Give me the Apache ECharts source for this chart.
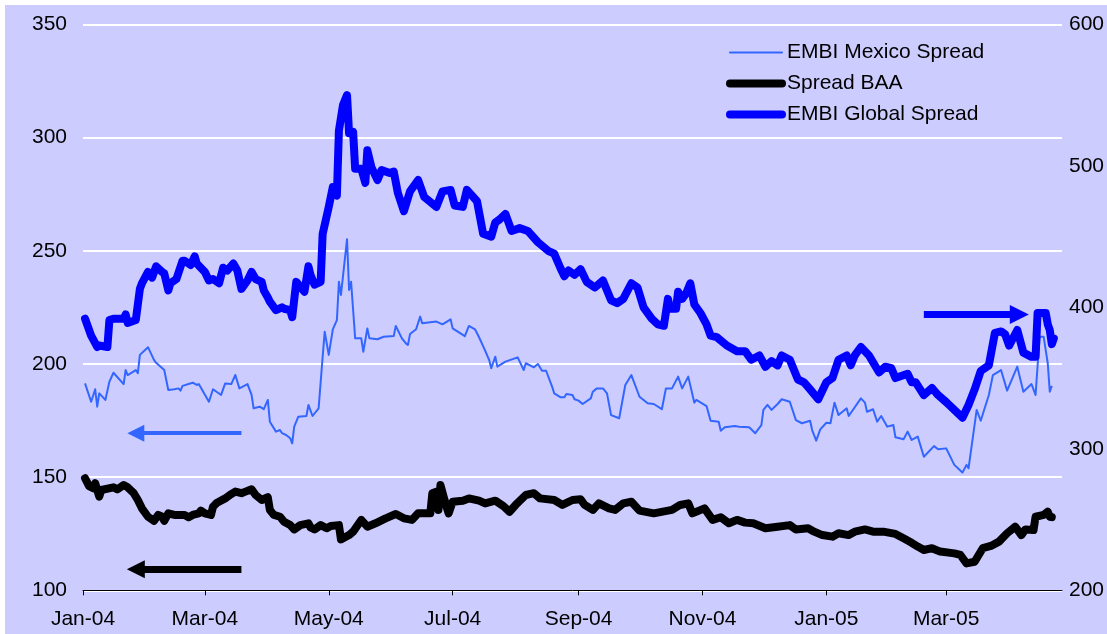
<!DOCTYPE html>
<html>
<head>
<meta charset="utf-8">
<script src="https://cdn.jsdelivr.net/npm/echarts/dist/echarts.min.js"></script>
<style>
  html, body { margin: 0; padding: 0; background: #ffffff; }
  #chart { position: absolute; left: 5px; top: 5px; width: 1102px; height: 629px; }
</style>
</head>
<body>
<div id="chart"></div>
<script>
// EMBI Mexico spread, basis points (left axis)
const mexicoSpread = [
  ['2004-01-02',191.4],['2004-01-05',183.3],['2004-01-07',188.8],['2004-01-08',181.1],['2004-01-09',187],
  ['2004-01-12',184.1],['2004-01-14',192.2],['2004-01-16',196.1],['2004-01-21',191.1],['2004-01-22',197.3],
  ['2004-01-23',195.1],['2004-01-27',197.3],['2004-01-28',195.9],['2004-01-29',204],['2004-02-02',207.4],
  ['2004-02-05',201.7],['2004-02-06',200.5],['2004-02-10',197.3],['2004-02-12',188.5],['2004-02-15',188.8],
  ['2004-02-17',189.2],['2004-02-18',188.2],['2004-02-19',190.3],['2004-02-24',191.7],['2004-02-26',190.7],
  ['2004-02-27',191.1],['2004-03-03',183.3],['2004-03-05',188.8],['2004-03-09',186.3],['2004-03-11',191.4],
  ['2004-03-14',191.1],['2004-03-16',195.1],['2004-03-18',189.2],['2004-03-22',191.1],['2004-03-24',186.3],
  ['2004-03-25',180.4],['2004-03-28',181.1],['2004-03-30',180],['2004-04-01',184.1],['2004-04-02',174.5],
  ['2004-04-05',170.1],['2004-04-07',170.8],['2004-04-08',169.4],['2004-04-10',168.6],['2004-04-12',167.2],
  ['2004-04-13',164.9],['2004-04-14',172.3],['2004-04-16',176.7],['2004-04-20',177],['2004-04-21',181.9],
  ['2004-04-23',177],['2004-04-26',180.4],['2004-04-28',203.2],['2004-04-29',214.2],['2004-05-01',204],
  ['2004-05-03',215.3],['2004-05-05',219.4],['2004-05-06',236.3],['2004-05-07',230.5],['2004-05-10',255.1],
  ['2004-05-11',232.7],['2004-05-12',236.3],['2004-05-14',211.3],['2004-05-17',211.3],['2004-05-18',205.4],
  ['2004-05-20',215.7],['2004-05-21',211.3],['2004-05-25',210.9],['2004-05-28',212],['2004-06-02',212.3],
  ['2004-06-03',216.8],['2004-06-06',211.3],['2004-06-08',209.1],['2004-06-09',208.4],['2004-06-10',213.2],
  ['2004-06-13',215.3],['2004-06-15',220.9],['2004-06-16',218],['2004-06-23',218.7],['2004-06-26',217.5],
  ['2004-06-30',219.7],['2004-07-01',215.7],['2004-07-07',212.3],['2004-07-09',216.8],['2004-07-12',215.3],
  ['2004-07-14',211.8],['2004-07-17',205.9],['2004-07-19',201.7],['2004-07-20',198.1],['2004-07-22',203.2],
  ['2004-07-23',198.8],['2004-07-27',201],['2004-08-02',202.9],['2004-08-05',197.3],['2004-08-06',200.3],
  ['2004-08-10',198.5],['2004-08-12',200],['2004-08-14',197],['2004-08-16',197],['2004-08-19',189.9],
  ['2004-08-20',187],['2004-08-23',185.3],['2004-08-25',185.3],['2004-08-26',186.7],['2004-08-29',186.3],
  ['2004-08-30',184.4],['2004-09-01',183.8],['2004-09-03',182.3],['2004-09-07',184.8],['2004-09-08',187.7],
  ['2004-09-10',189.2],['2004-09-13',189.2],['2004-09-15',187],['2004-09-17',177.4],['2004-09-21',176],
  ['2004-09-24',190.7],['2004-09-27',195.1],['2004-10-01',185.5],['2004-10-05',182.6],['2004-10-08',182.3],
  ['2004-10-12',180],['2004-10-14',189.2],['2004-10-17',189.2],['2004-10-20',194.4],['2004-10-22',189.2],
  ['2004-10-25',194.4],['2004-10-28',182.9],['2004-10-29',184.1],['2004-11-03',181.4],['2004-11-05',174.9],
  ['2004-11-09',174.5],['2004-11-10',170.5],['2004-11-12',172],['2004-11-17',172.6],['2004-11-19',172.3],
  ['2004-11-24',172],['2004-11-27',169.4],['2004-11-30',173],['2004-12-01',179.7],['2004-12-03',181.9],
  ['2004-12-05',179.7],['2004-12-08',182.3],['2004-12-10',184.4],['2004-12-14',183.3],['2004-12-17',175.2],
  ['2004-12-20',173.8],['2004-12-24',174.9],['2004-12-25',170.8],['2004-12-27',166.1],['2004-12-29',171.1],
  ['2005-01-01',174],['2005-01-03',173.8],['2005-01-05',182.9],['2005-01-07',177.4],['2005-01-11',180.4],
  ['2005-01-12',177],['2005-01-18',184.8],['2005-01-20',182.9],['2005-01-21',178.9],['2005-01-24',180],
  ['2005-01-26',174.5],['2005-01-28',177],['2005-01-31',172.3],['2005-02-03',173],['2005-02-04',167.6],
  ['2005-02-08',166.7],['2005-02-10',170.1],['2005-02-12',166.4],['2005-02-15',167.9],['2005-02-18',159],
  ['2005-02-23',163.7],['2005-02-25',162.3],['2005-03-01',162.7],['2005-03-05',155.4],['2005-03-09',152],
  ['2005-03-11',155.4],['2005-03-12',153.9],['2005-03-16',179.7],['2005-03-18',174.9],['2005-03-22',186.3],
  ['2005-03-24',195.1],['2005-03-28',197.3],['2005-03-31',188.2],['2005-04-05',198.8],['2005-04-08',187.7],
  ['2005-04-12',191.1],['2005-04-14',186.3],['2005-04-16',212],['2005-04-18',212],['2005-04-20',200.3],
  ['2005-04-21',187.7],['2005-04-22',190.3]
];

// BAA corporate spread, basis points (left axis)
const baaSpread = [
  ['2004-01-02',149.5],['2004-01-04',146],['2004-01-06',145.1],['2004-01-07',147.3],['2004-01-09',141.4],
  ['2004-01-10',144.3],['2004-01-16',145.5],['2004-01-18',144.6],['2004-01-21',146.5],['2004-01-23',145.5],
  ['2004-01-26',142.9],['2004-01-28',139.9],['2004-01-30',136.2],['2004-02-02',132.5],['2004-02-05',130.7],
  ['2004-02-07',133.3],['2004-02-09',132.5],['2004-02-10',130.7],['2004-02-12',134],['2004-02-15',133.3],
  ['2004-02-20',133.3],['2004-02-22',132.3],['2004-02-24',133.3],['2004-02-27',134],['2004-02-28',135.2],
  ['2004-03-01',134],['2004-03-04',133.3],['2004-03-05',136.9],['2004-03-07',138.7],['2004-03-11',140.6],
  ['2004-03-14',142.5],['2004-03-16',143.6],['2004-03-19',142.9],['2004-03-21',143.6],['2004-03-24',144.6],
  ['2004-03-26',142.1],['2004-03-29',139.9],['2004-04-01',141.1],['2004-04-02',135.5],['2004-04-04',133.3],
  ['2004-04-07',132.5],['2004-04-09',130.3],['2004-04-12',128.8],['2004-04-14',126.9],['2004-04-17',128.8],
  ['2004-04-21',129.6],['2004-04-22',127.8],['2004-04-24',126.9],['2004-04-27',128.8],['2004-04-30',127.4],
  ['2004-05-02',128.4],['2004-05-06',128.8],['2004-05-07',122.5],['2004-05-11',124.4],['2004-05-13',125.9],
  ['2004-05-17',131.1],['2004-05-20',128.1],['2004-05-24',129.6],['2004-05-29',131.8],['2004-06-03',133.7],
  ['2004-06-07',131.8],['2004-06-11',131.1],['2004-06-14',134],['2004-06-20',134],['2004-06-21',142.9],
  ['2004-06-23',143.6],['2004-06-24',135.5],['2004-06-25',146.5],['2004-06-27',139.9],['2004-06-29',134],
  ['2004-07-01',139.1],['2004-07-06',139.6],['2004-07-09',140.6],['2004-07-14',139.6],['2004-07-17',138.4],
  ['2004-07-22',139.6],['2004-07-26',137.2],['2004-07-29',134.7],['2004-08-01',137.7],['2004-08-06',142.1],
  ['2004-08-10',142.9],['2004-08-13',140.6],['2004-08-20',139.9],['2004-08-24',137.7],['2004-08-29',139.9],
  ['2004-09-02',140.2],['2004-09-04',137.7],['2004-09-08',135.5],['2004-09-11',138.4],['2004-09-16',136.2],
  ['2004-09-19',135.5],['2004-09-23',138.4],['2004-09-27',139.1],['2004-10-01',135.2],['2004-10-08',134],
  ['2004-10-17',135.5],['2004-10-21',137.7],['2004-10-25',138.4],['2004-10-27',134],['2004-11-02',136.2],
  ['2004-11-06',131.1],['2004-11-10',132.3],['2004-11-14',129.6],['2004-11-18',131.1],['2004-11-22',129.9],
  ['2004-11-26',129.6],['2004-12-02',127.4],['2004-12-08',128.1],['2004-12-14',128.8],['2004-12-17',126.9],
  ['2004-12-23',127.4],['2004-12-26',125.9],['2004-12-30',124.4],['2005-01-04',123.7],['2005-01-07',125.2],
  ['2005-01-12',124.4],['2005-01-15',125.9],['2005-01-20',126.9],['2005-01-24',125.9],['2005-01-29',125.9],
  ['2005-02-04',124.9],['2005-02-08',123],['2005-02-12',121],['2005-02-15',119.3],['2005-02-18',117.8],
  ['2005-02-22',118.6],['2005-02-26',117.1],['2005-03-05',116.3],['2005-03-08',115.6],['2005-03-11',111.9],
  ['2005-03-15',112.6],['2005-03-17',115.6],['2005-03-19',118.6],['2005-03-23',119.6],['2005-03-27',121.5],
  ['2005-03-31',125.2],['2005-04-04',128.1],['2005-04-07',124.4],['2005-04-09',126.9],['2005-04-13',126.6],
  ['2005-04-14',132.5],['2005-04-18',133.3],['2005-04-20',134.7],['2005-04-21',132.5],['2005-04-22',132.3]
];

// EMBI Global spread, basis points (right axis)
const globalSpread = [
  ['2004-01-02',392],['2004-01-05',380],['2004-01-08',372],['2004-01-09',373],['2004-01-13',372],
  ['2004-01-14',391],['2004-01-16',392],['2004-01-21',392],['2004-01-22',395],['2004-01-23',389],
  ['2004-01-27',391],['2004-01-29',413],['2004-01-30',417],['2004-02-02',425],['2004-02-04',421],
  ['2004-02-06',429],['2004-02-09',425],['2004-02-10',424],['2004-02-12',412],['2004-02-13',417],
  ['2004-02-16',420],['2004-02-19',433],['2004-02-20',433],['2004-02-23',430],['2004-02-25',436],
  ['2004-02-26',431],['2004-03-01',425],['2004-03-03',419],['2004-03-05',420],['2004-03-08',417],
  ['2004-03-10',428],['2004-03-12',426],['2004-03-15',431],['2004-03-17',426],['2004-03-19',413],
  ['2004-03-22',419],['2004-03-24',425],['2004-03-26',420],['2004-03-29',418],['2004-03-30',412],
  ['2004-04-01',407],['2004-04-02',404],['2004-04-05',398],['2004-04-08',400],['2004-04-09',399],
  ['2004-04-12',398],['2004-04-13',393],['2004-04-15',418],['2004-04-19',411],['2004-04-21',429],
  ['2004-04-22',423],['2004-04-24',416],['2004-04-27',418],['2004-04-28',452],['2004-05-01',471],
  ['2004-05-03',485],['2004-05-05',479],['2004-05-06',525],['2004-05-08',543],['2004-05-10',550],
  ['2004-05-11',523],['2004-05-13',524],['2004-05-14',498],['2004-05-17',498],['2004-05-19',488],
  ['2004-05-20',511],['2004-05-22',499],['2004-05-25',490],['2004-05-27',497],['2004-05-31',495],
  ['2004-06-02',496],['2004-06-04',481],['2004-06-07',468],['2004-06-10',482],['2004-06-14',490],
  ['2004-06-17',478],['2004-06-23',471],['2004-06-26',482],['2004-06-30',483],['2004-07-02',472],
  ['2004-07-06',471],['2004-07-08',483],['2004-07-13',475],['2004-07-16',452],['2004-07-20',450],
  ['2004-07-22',460],['2004-07-24',462],['2004-07-27',466],['2004-07-30',454],['2004-08-03',456],
  ['2004-08-07',454],['2004-08-12',446],['2004-08-17',440],['2004-08-20',438],['2004-08-23',428],
  ['2004-08-25',422],['2004-08-27',426],['2004-08-30',423],['2004-09-02',427],['2004-09-05',418],
  ['2004-09-09',414],['2004-09-13',419],['2004-09-17',405],['2004-09-20',403],['2004-09-23',406],
  ['2004-09-27',417],['2004-09-30',414],['2004-10-03',400],['2004-10-07',392],['2004-10-10',388],
  ['2004-10-13',387],['2004-10-15',406],['2004-10-16',399],['2004-10-19',399],['2004-10-20',411],
  ['2004-10-22',406],['2004-10-24',410],['2004-10-26',417],['2004-10-28',402],['2004-10-31',396],
  ['2004-11-03',388],['2004-11-05',380],['2004-11-08',379],['2004-11-13',373],['2004-11-18',369],
  ['2004-11-22',369],['2004-11-25',363],['2004-11-29',366],['2004-12-02',358],['2004-12-05',362],
  ['2004-12-08',359],['2004-12-10',366],['2004-12-14',363],['2004-12-18',349],['2004-12-21',347],
  ['2004-12-24',342],['2004-12-28',335],['2005-01-01',347],['2005-01-04',350],['2005-01-07',363],
  ['2005-01-11',366],['2005-01-13',359],['2005-01-15',366],['2005-01-18',372],['2005-01-22',366],
  ['2005-01-27',354],['2005-01-30',358],['2005-02-02',357],['2005-02-04',350],['2005-02-10',353],
  ['2005-02-12',347],['2005-02-14',347],['2005-02-18',338],['2005-02-22',343],['2005-02-25',338],
  ['2005-03-01',333],['2005-03-09',322],['2005-03-12',331],['2005-03-15',342],['2005-03-18',355],
  ['2005-03-22',359],['2005-03-25',382],['2005-03-28',383],['2005-03-30',381],['2005-04-01',373],
  ['2005-04-05',384],['2005-04-08',368],['2005-04-12',365],['2005-04-14',365],['2005-04-15',396],
  ['2005-04-19',396],['2005-04-20',388],['2005-04-21',384],['2005-04-22',374],['2005-04-23',378]
];

// Bimonthly ticks along the date axis
const xTickDates = ['2004-01-01','2004-03-01','2004-05-01','2004-07-01','2004-09-01','2004-11-01','2005-01-01','2005-03-01'];
const xRange = ['2004-01-01','2005-04-27'];
const monthNames = ['Jan','Feb','Mar','Apr','May','Jun','Jul','Aug','Sep','Oct','Nov','Dec'];

// Direction arrows: [from, to] as [date, value] on the series' own axis
const mexicoArrow = [['2004-03-19',169.4],['2004-01-27',169.4]];
const baaArrow = [['2004-03-19',109.3],['2004-01-27',109.3]];
const globalArrow = [['2005-02-18',395],['2005-04-06',395]];

const FONT = '"Liberation Sans", Arial, Helvetica, sans-serif';

function day(s) {
  const p = s.split('-').map(Number);
  return new Date(p[0], p[1] - 1, p[2]).getTime();
}
const toPoints = rows => rows.map(r => [day(r[0]), r[1]]);
function arrowLine(a, color, width, head) {
  return {
    silent: true,
    animation: false,
    symbol: ['none', 'triangle'],
    symbolSize: head,
    label: { show: false },
    emphasis: { disabled: true },
    lineStyle: { color: color, width: width, type: 'solid', opacity: 1 },
    data: [[{ coord: [day(a[0][0]), a[0][1]] }, { coord: [day(a[1][0]), a[1][1]] }]]
  };
}

const chart = echarts.init(document.getElementById('chart'), null, { renderer: 'canvas' });

chart.setOption({
  animation: false,
  backgroundColor: '#CCCCFF',
  textStyle: { fontFamily: FONT },
  grid: { left: 78, right: 45, top: 19.4, bottom: 43.7, containLabel: false },
  legend: {
    orient: 'vertical',
    left: 716,
    top: 32,
    itemWidth: 52,
    itemHeight: 14,
    itemGap: 10,
    selectedMode: false,
    // legend keys are plain line segments (no point marker)
    itemStyle: { opacity: 0 },
    textStyle: { fontSize: 21, color: '#000000', fontFamily: FONT },
    data: [
      { name: 'EMBI Mexico Spread', lineStyle: { width: 2, cap: 'round' } },
      { name: 'Spread BAA', lineStyle: { width: 8, cap: 'round' } },
      { name: 'EMBI Global Spread', lineStyle: { width: 8, cap: 'round' } }
    ]
  },
  xAxis: {
    // dates carried as timestamps on a linear scale so the bimonthly ticks can be placed exactly
    type: 'value',
    min: day(xRange[0]),
    max: day(xRange[1]),
    axisLine: { show: true, lineStyle: { color: '#000000', width: 1 } },
    axisTick: {
      show: true, inside: false, length: 5,
      lineStyle: { color: '#000000', width: 1 },
      customValues: xTickDates.map(day)
    },
    axisLabel: {
      customValues: xTickDates.map(day),
      margin: 18,
      fontSize: 21,
      color: '#000000',
      fontFamily: FONT,
      formatter: v => {
        const d = new Date(v);
        return monthNames[d.getMonth()] + '-' + String(d.getFullYear()).slice(2);
      }
    },
    splitLine: { show: false }
  },
  yAxis: [
    {
      type: 'value',
      min: 100, max: 350, interval: 50,
      axisLine: { show: false },
      axisTick: { show: false },
      axisLabel: { fontSize: 21, color: '#000000', margin: 16, fontFamily: FONT },
      splitLine: { show: true, lineStyle: { color: '#FFFFFF', width: 2 } }
    },
    {
      type: 'value',
      min: 200, max: 600, interval: 100,
      position: 'right',
      axisLine: { show: false },
      axisTick: { show: false },
      axisLabel: { fontSize: 21, color: '#000000', margin: 7, fontFamily: FONT },
      splitLine: { show: false }
    }
  ],
  series: [
    {
      name: 'EMBI Mexico Spread',
      type: 'line',
      yAxisIndex: 0,
      symbol: 'none',
      showSymbol: false,
      data: toPoints(mexicoSpread),
      itemStyle: { color: '#3366FF' },
      lineStyle: { color: '#3366FF', width: 2, join: 'round' },
      markLine: arrowLine(mexicoArrow, '#3366FF', 4, 17),
      z: 2
    },
    {
      name: 'Spread BAA',
      type: 'line',
      yAxisIndex: 0,
      symbol: 'none',
      showSymbol: false,
      data: toPoints(baaSpread),
      itemStyle: { color: '#000000' },
      lineStyle: { color: '#000000', width: 8, join: 'round', cap: 'round' },
      markLine: arrowLine(baaArrow, '#000000', 7, 18),
      z: 3
    },
    {
      name: 'EMBI Global Spread',
      type: 'line',
      yAxisIndex: 1,
      symbol: 'none',
      showSymbol: false,
      data: toPoints(globalSpread),
      itemStyle: { color: '#0000FF' },
      lineStyle: { color: '#0000FF', width: 8, join: 'round', cap: 'round' },
      markLine: arrowLine(globalArrow, '#0000FF', 7, 19),
      z: 4
    }
  ]
});
</script>
</body>
</html>
